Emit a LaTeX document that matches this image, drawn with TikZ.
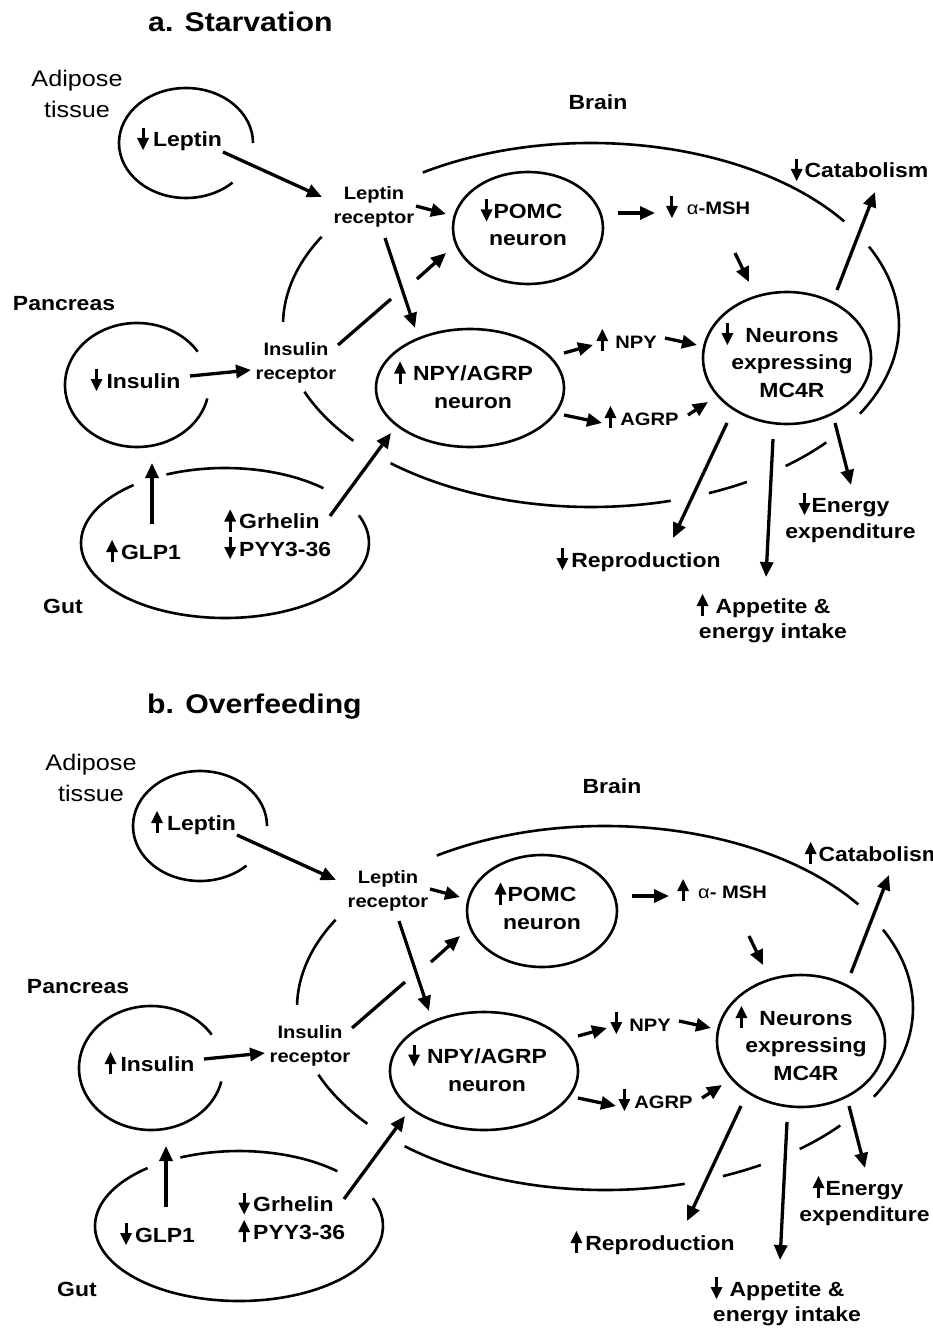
\documentclass[tikz,border=0pt]{standalone}
\usepackage{fontspec}
\setmainfont{Liberation Sans}[FakeStretch=1.12]
\usetikzlibrary{arrows.meta,shapes.geometric}

\newcommand\upa{\tikz[baseline=0pt]{\pgftransformreset\fill (-1.5pt,-3pt) rectangle (1.5pt,8pt); \fill (-6pt,7pt) -- (6pt,7pt) -- (0pt,19pt) -- cycle;}}
\newcommand\dna{\tikz[baseline=0pt]{\pgftransformreset\fill (-1.5pt,8pt) rectangle (1.5pt,19pt); \fill (-6pt,9pt) -- (6pt,9pt) -- (0pt,-3pt) -- cycle;}}
\newcommand\AR[2]{\leavevmode\llap{#1\hspace{#2pt}}}
\newcommand\earc[5]{\draw[outline] (#1) ++(#2:#4 and #5) arc[start angle=#2, end angle=#3, x radius=#4, y radius=#5];}

\tikzset{
  outline/.style={line width=2.6pt},
  oval/.style={draw, ellipse, line width=2.6pt, inner sep=0pt},
  arr/.style={line width=3.3pt, -{Triangle[length=15pt,width=13pt]}},
  lab/.style={font=\fontsize{20.5}{27.5}\selectfont\bfseries, align=center, inner sep=0pt, anchor=base},
  slab/.style={font=\fontsize{18}{24}\selectfont\bfseries, align=center, inner sep=0pt, anchor=base},
  reg/.style={font=\fontsize{22.5}{31}\selectfont, align=center, inner sep=0pt, anchor=base},
  ttl/.style={font=\fontsize{27}{32}\selectfont\bfseries, inner sep=0pt, anchor=base west},
}

\newcommand\panel{%
  % adipose tissue
  \node[reg] (adipose) at (77,-118) {Adipose\\tissue};
  \coordinate (lepc) at (186,-143);
  \earc{lepc}{0}{314}{67}{55}
  \node[lab] (leptin) at (187.5,-147) {\AR{\Lep}{4}Leptin};
  \node[slab] (lepr) at (374,-224) {Leptin\\receptor};
  % brain
  \node[lab] (brainT) at (598,-110) {Brain};
  \coordinate (brain) at (591,-325);
  \earc{brain}{34.7}{123.1}{308}{182}
  \earc{brain}{151}{179}{308}{182}
  \earc{brain}{201.5}{219.5}{308}{182}
  \earc{brain}{229.4}{285}{308}{182}
  \earc{brain}{292.5}{300.4}{308}{182}
  \earc{brain}{309.2}{319.8}{308}{182}
  \earc{brain}{330.8}{385.5}{308}{182}
  % POMC
  \node[oval, minimum width=150, minimum height=112] (pomc) at (528,-228) {};
  \node[lab] (pomcT) at (528,-246) {\AR{\Pomc}{1}POMC\\neuron};
  \node[slab] (msh) at (718.5,-215) {\AR{\Msh}{9}\mshtext};
  % NPY/AGRP
  \node[oval, minimum width=188, minimum height=118] (npyagrp) at (470,-388) {};
  \node[lab] (npyagrpT) at (473,-408) {\AR{\Npyagrp}{7}NPY/AGRP\\neuron};
  \node[slab] (npy) at (636,-348) {\AR{\Npy}{7}NPY};
  \node[slab] (agrp) at (649.5,-425) {\AR{\Agrp}{4}AGRP};
  % MC4R
  \node[oval, minimum width=168, minimum height=132] (mc4r) at (787,-358) {};
  \node[lab] (mc4rT) at (792,-397) {\AR{\Mc}{12}Neurons\\expressing\\MC4R};
  % outputs
  \node[lab] (cat) at (866.5,-178) {\AR{\Cat}{2}Catabolism};
  \node[lab] (rep) at (646,-567) {\AR{\Rep}{3}Reproduction};
  \node[lab] (energy) at (850.5,-538) {\AR{\En}{1}Energy\\[-1.5pt]expenditure};
  \node[lab] (app) at (773,-638) {\AR{\App}{7}Appetite \&\\[-2.5pt]energy intake};
  % pancreas
  \node[lab] (pancreas) at (64,-310) {Pancreas};
  \coordinate (insc) at (137,-385);
  \earc{insc}{32.5}{347.5}{72}{62}
  \node[lab] (insulin) at (143.5,-388) {\AR{\Ins}{4}Insulin};
  \node[slab] (insr) at (296,-379) {Insulin\\receptor};
  % gut
  \coordinate (gutc) at (225,-543);
  \earc{gutc}{129.4}{381.7}{144}{75}
  \earc{gutc}{46.9}{114}{144}{75}
  \node[lab] (glp) at (151,-559) {\AR{\Glp}{3}GLP1};
  \node[lab, align=left, anchor=base west] (grh) at (239,-556) {\AR{\Grh}{3}Grhelin\\\AR{\Pyy}{3}PYY3-36};
  \node[lab] (gut) at (63,-613) {Gut};
  % connector end points
  \coordinate (lep-o) at (223,-152);   \coordinate (lepr-i) at (322,-197);
  \coordinate (lepr-o1) at (416,-206); \coordinate (pomc-i1) at (446,-214);
  \coordinate (lepr-o2) at (385,-238); \coordinate (npyagrp-i1) at (415,-328);
  \coordinate (insr-o1) at (338,-345); \coordinate (cross-a) at (391,-299);
  \coordinate (cross-b) at (417,-279); \coordinate (pomc-i2) at (446,-253);
  \coordinate (pomc-o) at (618,-213);  \coordinate (msh-i) at (655,-213);
  \coordinate (msh-o) at (735,-253);   \coordinate (mc4r-i1) at (749,-282);
  \coordinate (npyagrp-o1) at (564,-353); \coordinate (npy-i) at (593,-345);
  \coordinate (npy-o) at (665,-338);   \coordinate (mc4r-i2) at (697,-345);
  \coordinate (npyagrp-o2) at (564,-415); \coordinate (agrp-i) at (602,-423);
  \coordinate (agrp-o) at (688,-415);  \coordinate (mc4r-i3) at (708,-402);
  \coordinate (mc4r-o1) at (837,-290); \coordinate (cat-i) at (875,-192);
  \coordinate (mc4r-o2) at (727,-423); \coordinate (rep-i) at (673,-538);
  \coordinate (mc4r-o3) at (773,-439); \coordinate (app-i) at (766,-577);
  \coordinate (mc4r-o4) at (835,-423); \coordinate (energy-i) at (851,-485);
  \coordinate (ins-o) at (190,-376);   \coordinate (insr-i) at (251,-370);
  \coordinate (glp-o) at (152,-524);   \coordinate (insc-i) at (152,-463);
  \coordinate (grh-o) at (330,-516);   \coordinate (npyagrp-i2) at (391,-433);
  % connectors
  \draw[arr] (lep-o) -- (lepr-i);
  \draw[arr] (lepr-o1) -- (pomc-i1);
  \draw[arr] (lepr-o2) -- (npyagrp-i1);
  \draw[line width=3.3pt] (insr-o1) -- (cross-a);
  \draw[arr] (cross-b) -- (pomc-i2);
  \draw[arr] (pomc-o) -- (msh-i);
  \draw[arr] (msh-o) -- (mc4r-i1);
  \draw[arr] (npyagrp-o1) -- (npy-i);
  \draw[arr] (npy-o) -- (mc4r-i2);
  \draw[arr] (npyagrp-o2) -- (agrp-i);
  \draw[arr] (agrp-o) -- (mc4r-i3);
  \draw[arr] (mc4r-o1) -- (cat-i);
  \draw[arr] (mc4r-o2) -- (rep-i);
  \draw[arr] (mc4r-o3) -- (app-i);
  \draw[arr] (mc4r-o4) -- (energy-i);
  \draw[arr] (ins-o) -- (insr-i);
  \draw[arr] (glp-o) -- (insc-i);
  \draw[arr] (grh-o) -- (npyagrp-i2);
}

\begin{document}
\begin{tikzpicture}[x=1pt,y=1pt]
  \useasboundingbox (0,0) rectangle (932,-1332);
  \node[ttl] (titleA) at (148,-32) {a. Starvation};
  \node[ttl] (titleB) at (147,-713) {b. Overfeeding};
  \begin{scope}[name prefix=a-]
    \def\Lep{\dna}\def\Pomc{\dna}\def\Msh{\dna}\def\Cat{\dna}\def\Ins{\dna}
    \def\Npyagrp{\upa}\def\Npy{\upa}\def\Agrp{\upa}\def\Mc{\dna}\def\En{\dna}
    \def\Rep{\dna}\def\App{\upa}\def\Glp{\upa}\def\Grh{\upa}\def\Pyy{\dna}
    \def\mshtext{{\mdseries α}-MSH}
    \panel
  \end{scope}
  \begin{scope}[shift={(14,-683)}, name prefix=b-]
    \def\Lep{\upa}\def\Pomc{\upa}\def\Msh{\upa}\def\Cat{\upa}\def\Ins{\upa}
    \def\Npyagrp{\dna}\def\Npy{\dna}\def\Agrp{\dna}\def\Mc{\upa}\def\En{\upa}
    \def\Rep{\upa}\def\App{\dna}\def\Glp{\dna}\def\Grh{\dna}\def\Pyy{\upa}
    \def\mshtext{{\mdseries α}- MSH}
    \panel
  \end{scope}
\end{tikzpicture}
\end{document}
